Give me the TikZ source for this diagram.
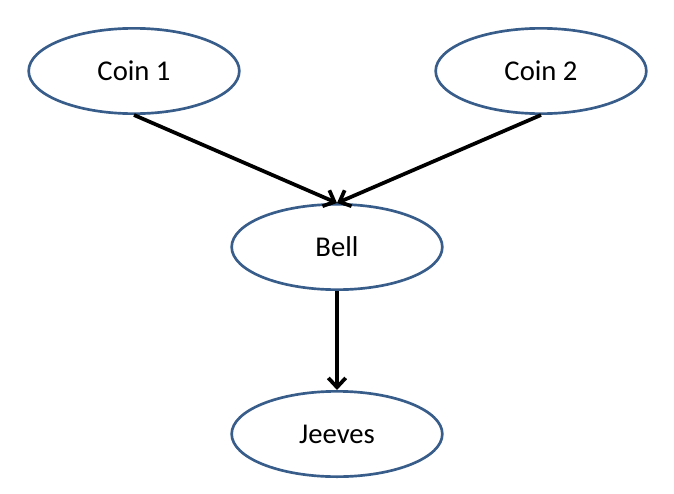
\documentclass[tikz,border=0pt]{standalone}
\usepackage{fontspec}
\setmainfont{Carlito}
\usetikzlibrary{arrows.meta,shapes.geometric}
\definecolor{nodeblue}{RGB}{56,93,138}

\begin{document}
\begin{tikzpicture}[x=0.75pt,y=-0.75pt,font=\fontsize{21.5}{26}\selectfont,
var/.style={ellipse,draw=nodeblue,line width=2pt,fill=white,minimum width=158pt,minimum height=64pt,inner sep=0pt},
arr/.style={-{Straight Barb[length=7pt,width=13pt]},line width=2.8pt,draw=black}]
\useasboundingbox(0,0)rectangle(674,493);

\node[var] (coin1)at(134,71){Coin 1};
\node[var] (coin2)at(541,71){Coin 2};
\node[var] (bell)at(337,247){Bell};
\node[var] (jeeves)at(337,434){Jeeves};
\draw[arr](coin1.south)--(bell.north);
\draw[arr](coin2.south)--(bell.north);
\draw[arr](bell.south)--(jeeves.north);
\end{tikzpicture}
\end{document}
